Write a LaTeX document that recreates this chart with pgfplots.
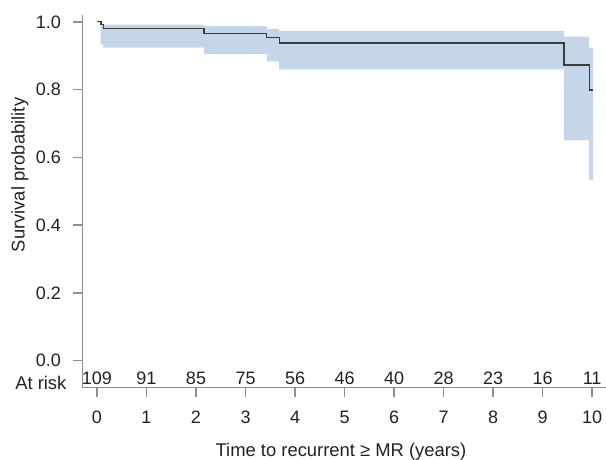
\documentclass[border=0pt]{standalone}
\usepackage{pgfplots}
\pgfplotsset{compat=1.18}
\usepackage{fontspec}
\setmainfont{Liberation Sans}
\definecolor{bandblue}{HTML}{C5D6E8}
\definecolor{curvegray}{HTML}{3C3C3C}
\definecolor{axisgray}{HTML}{8E8E8E}
\definecolor{txt}{HTML}{222222}

\begin{document}
\begin{tikzpicture}
\useasboundingbox (-61.7pt,-53.5pt) rectangle (392.8pt,290.8pt);
\begin{axis}[
    scale only axis,
    width=392.8pt,
    height=279.5pt,
    xmin=-0.297, xmax=10.28,
    ymin=-0.08, ymax=1.02,
    axis x line=bottom,
    axis y line=left,
    axis line style={-, axisgray, line width=1.1pt},
    every tick/.style={axisgray, line width=1.1pt},
    tick align=outside,
    major tick length=7pt,
    xtick={0,1,...,10},
    ytick={0,0.2,...,1.0},
    yticklabel style={/pgf/number format/fixed, /pgf/number format/precision=1,
        /pgf/number format/fixed zerofill, xshift=-5.5pt},
    xticklabel style={yshift=-7pt},
    /pgf/number format/assume math mode=true,
    tick label style={font=\fontsize{13.5}{16}\selectfont, text=txt},
    label style={font=\fontsize{13.8}{16}\selectfont, text=txt},
    xlabel={Time to recurrent ≥ MR (years)},
    ylabel={Survival probability},
    xlabel style={at={(axis description cs:0.494,-0.171)}, anchor=center},
    ylabel style={at={(axis description cs:-0.119,0.571)}, anchor=center},
    clip=false,
]
% confidence band
\addplot[fill=bandblue, draw=none] coordinates {
    (0.075,0.992) (2.16,0.992) (2.16,0.987) (3.43,0.987) (3.43,0.979)
    (3.68,0.979) (3.68,0.973) (9.43,0.973) (9.43,0.956) (9.94,0.956)
    (9.94,0.924) (10.02,0.924) (10.02,0.533) (9.94,0.533) (9.94,0.650)
    (9.43,0.650) (9.43,0.860) (3.68,0.860) (3.68,0.883) (3.43,0.883)
    (3.43,0.905) (2.16,0.905) (2.16,0.924) (0.13,0.924) (0.13,0.933)
    (0.075,0.933)
} --cycle;
% Kaplan-Meier curve
\addplot[const plot, curvegray, line width=1pt] coordinates {
    (0,1.0) (0.08,0.993) (0.13,0.980) (2.16,0.966) (3.43,0.954)
    (3.68,0.9375) (9.43,0.873) (9.94,0.799) (10.02,0.799)
};
% numbers at risk
\addplot[draw=none, mark=none, nodes near coords, point meta=explicit symbolic,
    nodes near coords style={anchor=south, inner sep=0pt, yshift=2pt,
        font=\fontsize{13.5}{16}\selectfont, text=txt}]
    table[meta=n] {
    x y n
    0 -0.08 109
    1 -0.08 91
    2 -0.08 85
    3 -0.08 75
    4 -0.08 56
    5 -0.08 46
    6 -0.08 40
    7 -0.08 28
    8 -0.08 23
    9 -0.08 16
    10 -0.08 11
};
\node[anchor=base east, inner sep=0pt, xshift=-11.7pt, yshift=-1pt,
    font=\fontsize{13.8}{16}\selectfont, text=txt] at (axis cs:-0.297,-0.08) {At risk};
\end{axis}
\end{tikzpicture}
\end{document}
